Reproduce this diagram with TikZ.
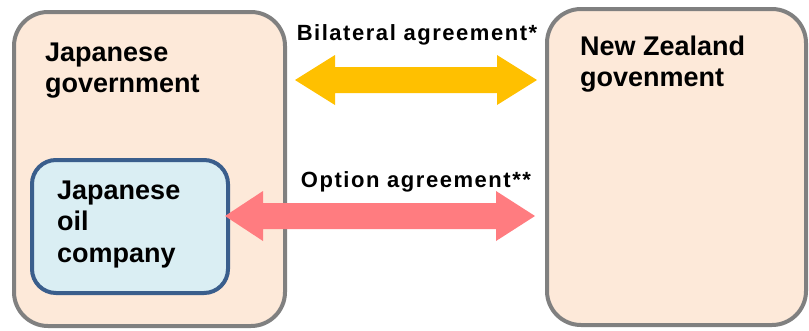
\documentclass[tikz,border=0pt]{standalone}
\usepackage{fontspec}
\setmainfont{Liberation Sans}
\newfontfamily\agrfont[LetterSpace=7]{Liberation Sans}
\definecolor{peach}{HTML}{FDE9D9}
\definecolor{boxgray}{HTML}{808080}
\definecolor{lightblue}{HTML}{DAEEF3}
\definecolor{darkblue}{HTML}{3A5E8C}
\definecolor{arrowyellow}{HTML}{FFC000}
\definecolor{arrowpink}{HTML}{FF7C80}
\begin{document}
\begin{tikzpicture}[x=1pt,y=-1pt,
  govbox/.style={draw=boxgray, line width=4pt, fill=peach, rounded corners=34pt, anchor=north west, inner sep=0pt, outer sep=0pt},
  oilbox/.style={draw=darkblue, line width=4pt, fill=lightblue, rounded corners=24pt, anchor=north west, inner sep=0pt, outer sep=0pt},
  boxlabel/.style={font=\bfseries\fontsize{27}{31.5}\selectfont, align=left, anchor=north west, inner sep=0pt},
  agrlabel/.style={font=\agrfont\bfseries\fontsize{22}{26}\selectfont, anchor=base, inner sep=0pt}
]
\useasboundingbox (0,0) rectangle (809,330);
\fill[white] (0,0) rectangle (809,330);
% boxes
\node[govbox, minimum width=271pt, minimum height=314pt] (jp) at (14,12) {};
\node[govbox, minimum width=259pt, minimum height=316pt] (nz) at (547,9) {};
\node[oilbox, minimum width=196pt, minimum height=133pt] (oil) at (32,160) {};
% labels
\node[boxlabel] (jplabel) at (45,42.5) {Japanese\\government};
\node[boxlabel] (nzlabel) at (580,35.5) {New Zealand\\govenment};
\node[boxlabel] (oillabel) at (57,180.5) {Japanese\\oil\\company};
% arrows
\coordinate (yl) at (295,80);
\coordinate (yr) at (537,80);
\fill[arrowyellow] (yl) -- ++(40,-25) -- ++(0,12) -- ([xshift=-40pt,yshift=13pt]yr) -- ++(0,-12) -- (yr)
  -- ++(-40,25) -- ++(0,-12) -- ([xshift=40pt,yshift=-13pt]yl) -- ++(0,12) -- cycle;
\coordinate (pl) at (225,216);
\coordinate (pr) at (535,216);
\fill[arrowpink] (pl) -- ++(38,-25) -- ++(0,12) -- ([xshift=-39pt,yshift=13pt]pr) -- ++(0,-12) -- (pr)
  -- ++(-39,25) -- ++(0,-12) -- ([xshift=38pt,yshift=-13pt]pl) -- ++(0,12) -- cycle;
\node[agrlabel] (bilat) at (417,40) {Bilateral agreement*};
\node[agrlabel] (option) at (416,187) {Option agreement**};
\end{tikzpicture}
\end{document}
